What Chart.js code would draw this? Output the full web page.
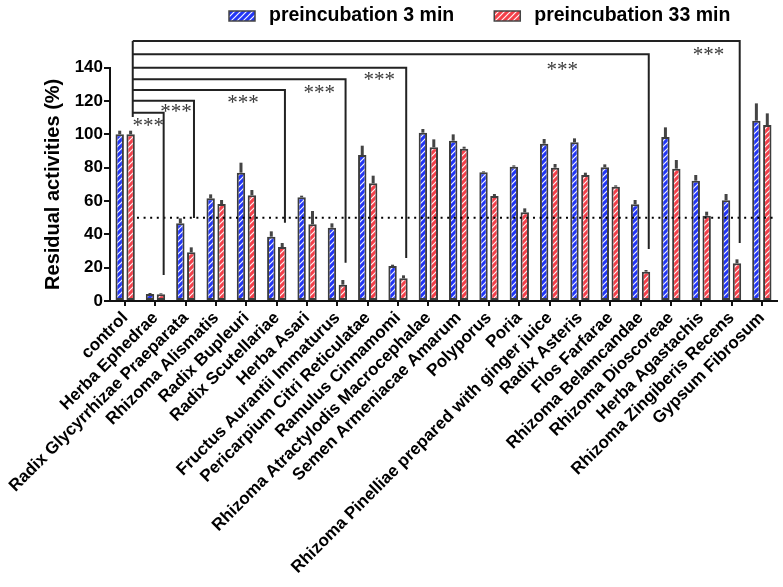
<!DOCTYPE html>
<html>
<head>
<meta charset="utf-8">
<script src="https://cdn.jsdelivr.net/npm/chart.js@4.4.1/dist/chart.umd.min.js"></script>
<style>
	html, body { margin: 0; padding: 0; background: #fff; }
	#wrap { width: 783px; height: 587px; }
</style>
</head>
<body>
<div id="wrap"><canvas id="chart" width="783" height="587"></canvas></div>
<script>
// ── Data ──────────────────────────────────────────────────────────────────
var categories = [
	'control', 'Herba Ephedrae', 'Radix Glycyrrhizae Praeparata', 'Rhizoma Alismatis',
	'Radix Bupleuri', 'Radix Scutellariae', 'Herba Asari', 'Fructus Aurantii Immaturus',
	'Pericarpium Citri Reticulatae', 'Ramulus Cinnamomi', 'Rhizoma Atractylodis Macrocephalae',
	'Semen Armeniacae Amarum', 'Polyporus', 'Poria', 'Rhizoma Pinelliae prepared with ginger juice',
	'Radix Asteris', 'Flos Farfarae', 'Rhizoma Belamcandae', 'Rhizoma Dioscoreae',
	'Herba Agastachis', 'Rhizoma Zingiberis Recens', 'Gypsum Fibrosum'
];
var seriesNames = [ 'preincubation 3 min', 'preincubation 33 min' ];

var values3min  = [ 100, 4.2, 46.6, 61.6, 77, 38.6, 62.2, 44, 87.6, 21, 101, 96.2, 77.2, 80.6, 94.4, 95.2, 80.2, 58, 98.4, 72.2, 60.4, 108.2 ];
var errTop3min  = [ 102.2, 4.8, 49.6, 64, 83, 41.8, 63.2, 46.6, 93.2, 21.8, 103.2, 100, 77.8, 81.4, 97.2, 97.6, 82, 60.6, 104.2, 75.6, 64.2, 118.6 ];
var values33min = [ 100, 4.0, 29.2, 58.2, 63.4, 32.4, 46, 9.8, 70.6, 13.6, 92.2, 91.4, 63, 53.2, 80, 75.6, 68.6, 17.6, 79.4, 51.2, 22.6, 105.6 ];
var errTop33min = [ 102.2, 4.6, 32.2, 60.6, 66.6, 34.8, 54, 12.6, 75.2, 15.4, 97, 92.6, 64.2, 55.6, 82.2, 77, 69.4, 18.6, 84.6, 53.6, 25, 112.6 ];

var yTicks  = [ 0, 20, 40, 60, 80, 100, 120, 140 ];
var refLine = 50;

// significance brackets: control vs target
var sigTargets  = [ 1, 2, 5, 7, 9, 17, 20 ];
var sigLevels   = [ 113, 120.2, 126.6, 133, 140, 148, 156 ];
var sigEnds     = [ 15.6, 49.8, 47, 23, 25.8, 31.2, 34.8 ];
var sigStarX    = [ 0.76, 1.68, 3.89, 6.4, 8.38, 14.42, 19.24 ];
var sigStarY    = [ 107.6, 116.1, 121.8, 127.8, 135.2, 141.6, 150.2 ];
var sigText     = '***';
var controlBase = 110.4;

// ── Helpers ───────────────────────────────────────────────────────────────
var FONT = '"Liberation Sans", Arial, sans-serif';

function hatch( color ) {
	var c = document.createElement( 'canvas' );
	c.width = 6; c.height = 6;
	var g = c.getContext( '2d' );
	g.fillStyle = color;
	g.fillRect( 0, 0, 6, 6 );
	g.strokeStyle = 'rgba(255,255,255,0.95)';
	g.lineWidth = 1.2;
	g.beginPath();
	g.moveTo( 0, 6 ); g.lineTo( 6, 0 );
	g.moveTo( -1, 1 ); g.lineTo( 1, -1 );
	g.moveTo( 5, 7 ); g.lineTo( 7, 5 );
	g.stroke();
	return g.createPattern( c, 'repeat' );
}

var blueFill = hatch( '#2236f6' );
var redFill  = hatch( '#f4404a' );

// ── Plugins ───────────────────────────────────────────────────────────────
var errorBars = {
	id: 'errorBars',
	afterDatasetsDraw: function ( chart ) {
		var ctx  = chart.ctx;
		var ys   = chart.scales.y;
		var tops = [ errTop3min, errTop33min ];
		ctx.save();
		ctx.strokeStyle = '#444';
		ctx.lineWidth = 3;
		chart.data.datasets.forEach( function ( ds, d ) {
			chart.getDatasetMeta( d ).data.forEach( function ( bar, i ) {
				ctx.beginPath();
				ctx.moveTo( bar.x, bar.y );
				ctx.lineTo( bar.x, ys.getPixelForValue( tops[ d ][ i ] ) );
				ctx.stroke();
			} );
		} );
		// dotted 50% line
		var xs = chart.scales.x;
		var yl = ys.getPixelForValue( refLine );
		ctx.strokeStyle = '#000';
		ctx.lineWidth = 2;
		ctx.setLineDash( [ 2, 4.6 ] );
		ctx.beginPath();
		ctx.moveTo( xs.getPixelForValue( 0.39 ), yl );
		ctx.lineTo( chart.chartArea.right, yl );
		ctx.stroke();
		ctx.restore();
	}
};

var brackets = {
	id: 'brackets',
	afterDraw: function ( chart ) {
		var ctx = chart.ctx;
		var xs  = chart.scales.x;
		var ys  = chart.scales.y;
		var x0  = xs.getPixelForValue( 0.25 );
		ctx.save();
		ctx.strokeStyle = '#222';
		ctx.lineWidth = 2;
		ctx.beginPath();
		ctx.moveTo( x0, ys.getPixelForValue( Math.max.apply( null, sigLevels ) ) );
		ctx.lineTo( x0, ys.getPixelForValue( controlBase ) );
		sigTargets.forEach( function ( t, k ) {
			var xt = xs.getPixelForValue( t + 0.27 );
			var yl = ys.getPixelForValue( sigLevels[ k ] );
			ctx.moveTo( x0, yl );
			ctx.lineTo( xt, yl );
			ctx.lineTo( xt, ys.getPixelForValue( sigEnds[ k ] ) );
		} );
		ctx.stroke();

		ctx.fillStyle = '#3a3a3a';
		ctx.font = '21px "Liberation Serif", "Times New Roman", serif';
		ctx.textAlign = 'center';
		ctx.textBaseline = 'alphabetic';
		sigStarX.forEach( function ( sx, k ) {
			ctx.fillText( sigText, xs.getPixelForValue( sx ), ys.getPixelForValue( sigStarY[ k ] ) + 10.5 );
		} );
		ctx.restore();
	}
};

var topLegend = {
	id: 'topLegend',
	afterDraw: function ( chart ) {
		var ctx   = chart.ctx;
		var fills = [ blueFill, redFill ];
		var x = 229, cy = 16;
		ctx.save();
		ctx.font = 'bold 19.5px ' + FONT;
		ctx.textBaseline = 'middle';
		ctx.textAlign = 'left';
		seriesNames.forEach( function ( name, i ) {
			ctx.fillStyle = fills[ i ];
			ctx.fillRect( x, cy - 5, 26, 10 );
			ctx.strokeStyle = '#444';
			ctx.lineWidth = 1.5;
			ctx.strokeRect( x, cy - 5, 26, 10 );
			ctx.fillStyle = '#000';
			ctx.fillText( name, x + 40, cy );
			x += 40 + ctx.measureText( name ).width + 40;
		} );
		ctx.restore();
	}
};

// ── Chart ─────────────────────────────────────────────────────────────────
Chart.defaults.font.family = FONT;

new Chart( document.getElementById( 'chart' ).getContext( '2d' ), {
	type: 'bar',
	data: {
		labels: categories,
		datasets: [
			{
				label: seriesNames[ 0 ],
				data: values3min,
				backgroundColor: blueFill,
				borderColor: '#3d3d3d',
				borderWidth: 2,
				borderSkipped: false,
				categoryPercentage: 0.72,
				barPercentage: 0.77
			},
			{
				label: seriesNames[ 1 ],
				data: values33min,
				backgroundColor: redFill,
				borderColor: '#3d3d3d',
				borderWidth: 2,
				borderSkipped: false,
				categoryPercentage: 0.72,
				barPercentage: 0.77
			}
		]
	},
	options: {
		responsive: false,
		animation: false,
		devicePixelRatio: 1,
		layout: { padding: { top: 67.7, left: 41.6, right: 6, bottom: 0 } },
		plugins: {
			legend: { display: false },
			tooltip: { enabled: false }
		},
		scales: {
			x: {
				grid: { drawOnChartArea: false, drawTicks: true, tickLength: 5, color: '#111', lineWidth: 2, offset: false },
				border: { display: true, color: '#111', width: 2 },
				ticks: {
					autoSkip: false, minRotation: 45, maxRotation: 45, padding: 2, color: '#000',
					font: { size: 17, weight: 'bold' }
				},
				afterFit: function ( s ) { s.height = 286; }
			},
			y: {
				min: 0,
				max: 140,
				afterBuildTicks: function ( s ) {
					s.ticks = yTicks.map( function ( v ) { return { value: v }; } );
				},
				grid: { drawOnChartArea: false, drawTicks: true, tickLength: 6, color: '#111', lineWidth: 2 },
				border: { display: true, color: '#111', width: 2 },
				ticks: { padding: 1, color: '#000', font: { size: 17, weight: 'bold' } },
				title: {
					display: true, text: 'Residual activities (%)', color: '#000', padding: 0,
					font: { size: 20, weight: 'bold' }
				},
				afterFit: function ( s ) { s.width = 68.4; }
			}
		}
	},
	plugins: [ errorBars, brackets, topLegend ]
} );
</script>
</body>
</html>
